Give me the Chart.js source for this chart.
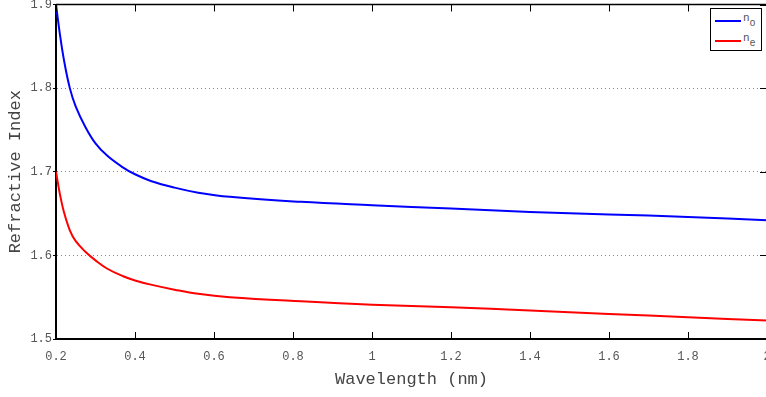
<!DOCTYPE html>
<html>
<head>
<meta charset="utf-8">
<script src="https://cdn.jsdelivr.net/npm/chart.js@4"></script>
<style>
  html, body { margin: 0; padding: 0; background: #fff; overflow: hidden; }
  #wrap { position: relative; width: 766px; height: 397px; overflow: hidden; }
  #chart { position: absolute; left: 0; top: 0; }
  #legend {
    position: absolute; left: 710px; top: 8px; width: 50px; height: 41px;
    border: 1.5px solid #000; background: #fff;
    font-family: "Liberation Mono", monospace; color: #555; font-size: 11px;
  }
  #legend .row { position: absolute; left: 4px; height: 14px; }
  #legend .sw { position: absolute; left: 0; top: 6px; width: 26px; height: 2px; }
  #legend .lab { position: absolute; left: 28px; top: -2px; white-space: nowrap; }
  #legend sub { font-size: 10px; vertical-align: -5px; }
</style>
</head>
<body>
<div id="wrap">
  <canvas id="chart" width="768" height="397"></canvas>
  <div id="legend">
    <div class="row" style="top:5px"><div class="sw" style="background:#0000ff"></div><div class="lab">n<sub>o</sub></div></div>
    <div class="row" style="top:25px"><div class="sw" style="background:#ff0000"></div><div class="lab">n<sub>e</sub></div></div>
  </div>
</div>
<script>
const wavelength = [0.2, 0.21, 0.22, 0.235, 0.25, 0.275, 0.3, 0.33, 0.37, 0.4, 0.44, 0.5, 0.56, 0.64, 0.82, 1.0, 1.2, 1.4, 1.6, 1.8, 2.0];
const nO = [1.900, 1.864, 1.834, 1.800, 1.778, 1.753, 1.734, 1.719, 1.705, 1.697, 1.689, 1.681, 1.675, 1.670, 1.664, 1.660, 1.656, 1.652, 1.649, 1.646, 1.642];
const nE = [1.700, 1.673, 1.652, 1.630, 1.617, 1.604, 1.594, 1.584, 1.575, 1.570, 1.565, 1.559, 1.554, 1.550, 1.545, 1.541, 1.538, 1.534, 1.530, 1.526, 1.522];
const xTicks = [0.2, 0.4, 0.6, 0.8, 1, 1.2, 1.4, 1.6, 1.8, 2];
const yTicks = [1.5, 1.6, 1.7, 1.8, 1.9];

const mono = "'Liberation Mono', monospace";
const pts = arr => wavelength.map((w, i) => ({ x: w, y: arr[i] }));

// frame: top/right border and inward ticks like the original plot
const frame = {
  id: 'frame',
  afterDraw(chart) {
    const { ctx, chartArea: a, scales } = chart;
    ctx.save();
    ctx.strokeStyle = '#000';
    ctx.lineWidth = 1.5;
    ctx.beginPath();
    ctx.moveTo(a.left, a.top); ctx.lineTo(a.right, a.top);
    ctx.moveTo(a.right, a.top); ctx.lineTo(a.right, a.bottom);
    ctx.stroke();
    ctx.lineWidth = 1;
    ctx.beginPath();
    xTicks.forEach(v => {
      const px = Math.round(scales.x.getPixelForValue(v)) + 0.5;
      ctx.moveTo(px, a.bottom); ctx.lineTo(px, a.bottom - 7);
      ctx.moveTo(px, a.top); ctx.lineTo(px, a.top + 7);
    });
    yTicks.forEach(v => {
      const py = Math.round(scales.y.getPixelForValue(v)) + 0.5;
      ctx.moveTo(a.right, py); ctx.lineTo(a.right - 7, py);
    });
    ctx.stroke();
    ctx.restore();
  }
};

new Chart(document.getElementById('chart'), {
  type: 'line',
  data: {
    datasets: [
      { label: 'n_o', data: pts(nO), borderColor: '#0000ff', borderWidth: 2, pointRadius: 0, tension: 0.4, fill: false },
      { label: 'n_e', data: pts(nE), borderColor: '#ff0000', borderWidth: 2, pointRadius: 0, tension: 0.4, fill: false }
    ]
  },
  options: {
    responsive: false,
    animation: false,
    layout: { padding: { top: 4.5, right: 1, left: 0, bottom: 0 } },
    plugins: { legend: { display: false }, tooltip: { enabled: false } },
    scales: {
      x: {
        type: 'linear', min: 0.2, max: 2,
        afterBuildTicks: s => { s.ticks = xTicks.map(v => ({ value: v })); },
        afterFit: s => { s.height = 58; s.paddingLeft = 0; s.paddingRight = 0; },
        grid: { display: false },
        border: { display: true, color: '#000', width: 2 },
        ticks: { padding: 3, maxRotation: 0, color: '#555', font: { family: mono, size: 12 },
          callback: v => String(v) },
        title: { display: true, text: 'Wavelength (nm)', color: '#444', font: { family: mono, size: 17 }, padding: { top: 4, bottom: 7 } }
      },
      y: {
        min: 1.5, max: 1.9,
        afterBuildTicks: s => { s.ticks = yTicks.map(v => ({ value: v })); },
        afterFit: s => { s.width = 56; s.paddingTop = 0; s.paddingBottom = 0; },
        grid: { color: '#888', tickColor: '#000', tickLength: 3, tickBorderDash: [], tickWidth: 1 },
        border: { display: true, color: '#000', width: 2, dash: [1, 3] },
        ticks: { padding: 1, color: '#555', font: { family: mono, size: 12 }, callback: v => v.toFixed(1) },
        title: { display: true, text: 'Refractive Index', color: '#444', font: { family: mono, size: 17 }, padding: { top: 5, bottom: 4 } }
      }
    }
  },
  plugins: [frame]
});
</script>
</body>
</html>
